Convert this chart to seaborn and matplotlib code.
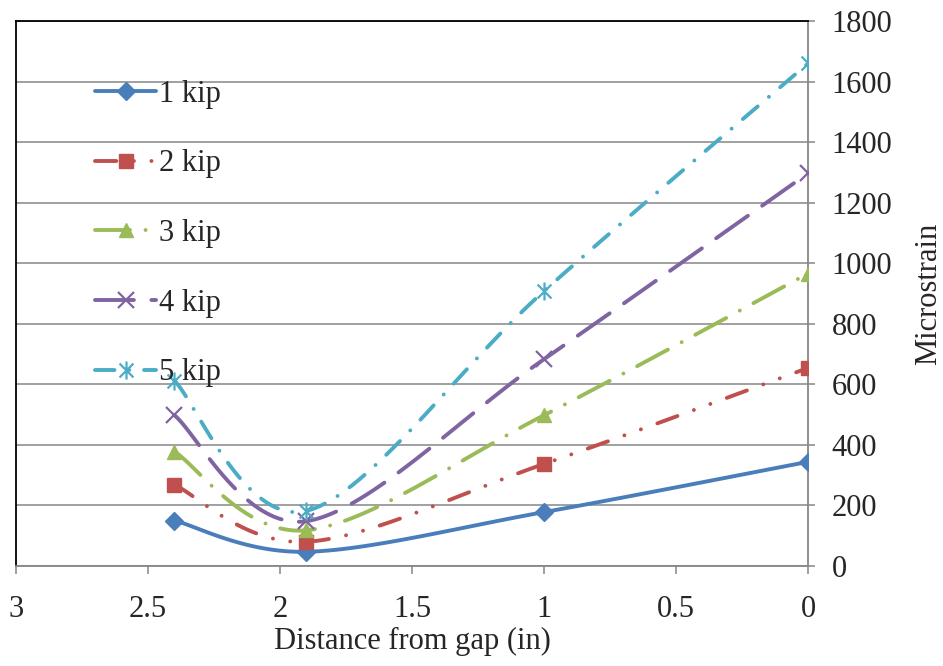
import numpy as np
import pandas as pd
import matplotlib
matplotlib.use("Agg")
import matplotlib.pyplot as plt
import seaborn as sns
from matplotlib.lines import Line2D
from matplotlib.path import Path

# data
distance = [2.4, 1.9, 1.0, 0.0]
loads = ["1 kip", "2 kip", "3 kip", "4 kip", "5 kip"]
strain_1kip = [150, 47, 178, 344]
strain_2kip = [268, 80, 337, 654]
strain_3kip = [378, 118, 498, 966]
strain_4kip = [498, 148, 683, 1297]
strain_5kip = [612, 182, 908, 1660]
strains = [strain_1kip, strain_2kip, strain_3kip, strain_4kip, strain_5kip]

colors = ["#4A7EBB", "#C0504D", "#9BBB59", "#8064A2", "#4BACC6"]
# x with a vertical bar, like the excel "star" marker
star = Path([(-1, -1), (1, 1), (-1, 1), (1, -1), (0, -1.3), (0, 1.3)],
            [Path.MOVETO, Path.LINETO, Path.MOVETO, Path.LINETO, Path.MOVETO, Path.LINETO])
markers = ["D", "s", "^", "x", star]
msizes = [9, 10, 10, 11, 13]
styles = ["-",
          (0, (5.5, 4.5, 0.01, 4.5, 0.01, 4.5)),
          (0, (9, 4, 0.01, 4)),
          (0, (10, 4.5)),
          (0, (5, 3.8, 0.01, 3.8))]


def smooth(xs, ys, sx=264.0, sy=545 / 1800, n=40):
    """excel-like smoothed line (catmull-rom as bezier), done in screen-ish units"""
    P = np.column_stack([np.array(xs) * sx, np.array(ys) * sy])
    out = []
    for i in range(len(P) - 1):
        p0 = P[max(i - 1, 0)]
        p1, p2 = P[i], P[i + 1]
        p3 = P[min(i + 2, len(P) - 1)]
        c1 = p1 + (p2 - p0) / 6
        c2 = p2 - (p3 - p1) / 6
        t = np.linspace(0, 1, n)[:, None]
        seg = (1 - t) ** 3 * p1 + 3 * (1 - t) ** 2 * t * c1 + 3 * (1 - t) * t ** 2 * c2 + t ** 3 * p2
        out.append(seg if i == 0 else seg[1:])
    out = np.vstack(out)
    return out[:, 0] / sx, out[:, 1] / sy


sns.set_style("white")
plt.rcParams["font.family"] = ["Liberation Serif", "DejaVu Serif"]
plt.rcParams["font.size"] = 22

fig = plt.figure(figsize=(9.43, 6.66), dpi=100)
ax = fig.add_axes([16 / 943, 1 - 566 / 666, 792 / 943, 545 / 666])

lw = 2.8
handles = []
for lab, ys, c, m, ms, ls in zip(loads, strains, colors, markers, msizes, styles):
    sx_, sy_ = smooth(distance, ys)
    sns.lineplot(x=sx_, y=sy_, sort=False, ax=ax, color=c, linewidth=lw,
                 linestyle=ls, dash_capstyle="round", solid_capstyle="round", zorder=3)
    mfc = "none" if m in ("x",) or m is star else c
    ax.plot(distance, ys, linestyle="none", marker=m, markersize=ms, color=c,
            markerfacecolor=mfc, markeredgewidth=1.6 if mfc == "none" else 1, zorder=4)
    handles.append(Line2D([], [], color=c, linewidth=lw, linestyle=ls, dash_capstyle="round",
                          marker=m, markersize=ms, markerfacecolor=mfc,
                          markeredgewidth=1.6 if mfc == "none" else 1))

ax.set_xlim(3, 0)
ax.set_ylim(0, 1800)
ax.set_xticks([3, 2.5, 2, 1.5, 1, 0.5, 0])
ax.set_xticklabels(["3", "2.5", "2", "1.5", "1", "0.5", "0"])
ax.set_yticks(range(0, 1801, 200))
ax.yaxis.tick_right()
ax.yaxis.set_label_position("right")
ax.grid(axis="y", color="#868686", linewidth=1.1)
ax.grid(axis="x", visible=False)
ax.set_axisbelow(True)

for s in ["top", "left"]:
    ax.spines[s].set_color("black")
    ax.spines[s].set_linewidth(1.3)
for s in ["bottom", "right"]:
    ax.spines[s].set_color("#868686")
    ax.spines[s].set_linewidth(1.3)

ax.tick_params(axis="x", bottom=True, direction="out", length=6, width=1.1, color="#868686", pad=15)
ax.tick_params(axis="y", right=True, left=False, direction="out", length=5, width=1.1, color="#868686", pad=12)

ax.set_xlabel("Distance from gap (in)", labelpad=2)
ax.set_ylabel("Microstrain", labelpad=16)

ax.legend(handles=handles, labels=loads, loc="upper left", bbox_to_anchor=(0.1, 0.892),
          frameon=False, labelspacing=1.33, handlelength=2.0, handletextpad=0.1,
          borderpad=0, borderaxespad=0, numpoints=1)

fig.savefig("out.png", dpi=100)
